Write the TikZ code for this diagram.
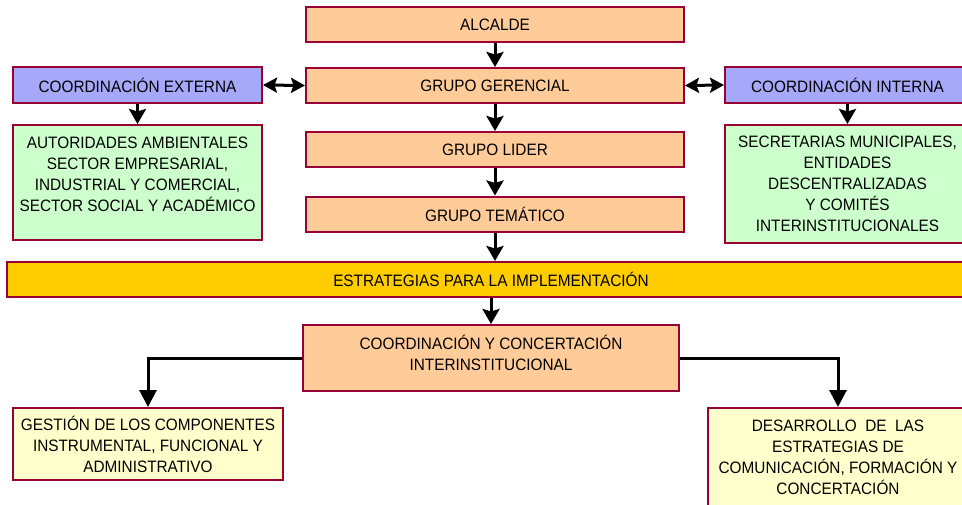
\documentclass[tikz,border=0pt]{standalone}
\usepackage{fontspec}
\setmainfont[FakeStretch=0.93]{Liberation Sans}
\usetikzlibrary{arrows.meta}
\definecolor{bord}{RGB}{153,0,51}
\definecolor{orfill}{RGB}{255,204,153}
\definecolor{blfill}{RGB}{166,168,250}
\definecolor{grfill}{RGB}{204,255,204}
\definecolor{yefill}{RGB}{255,204,0}
\definecolor{lyfill}{RGB}{255,255,204}
\tikzset{
  base/.style={draw=bord, line width=2pt, rectangle, inner sep=0pt, align=center,
    font=\fontsize{16.5}{21}\selectfont},
  obox/.style={base, fill=orfill},
  bbox/.style={base, fill=blfill},
  gbox/.style={base, fill=grfill},
  ybox/.style={base, fill=yefill},
  lbox/.style={base, fill=lyfill},
  txt/.style={inner sep=0pt, align=center, font=\fontsize{16.5}{21}\selectfont},
  arr/.style={line width=3pt, -{Stealth[length=15pt,width=17pt,inset=2.5pt]}},
  darr/.style={line width=3pt, {Stealth[length=14pt,width=15pt,inset=2.5pt]}-{Stealth[length=14pt,width=15pt,inset=2.5pt]}},
  tarr/.style={line width=3pt, -{Triangle[length=17pt,width=17pt]}},
}
\begin{document}
\begin{tikzpicture}[x=1pt,y=-1pt]
\useasboundingbox (0,0) rectangle (962,504);
% central column
\node[obox, minimum width=378, minimum height=35] (alc) at (495,24.5) {ALCALDE};
\node[obox, minimum width=378, minimum height=35] (ger) at (495,85.5) {GRUPO GERENCIAL};
\node[obox, minimum width=378, minimum height=35] (lid) at (495,149.5) {GRUPO LIDER};
\node[obox, minimum width=378, minimum height=35] (tem) at (495,214) {GRUPO TEMÁTICO};
\node[ybox, minimum width=968, minimum height=35] (est) at (491,279.5) {ESTRATEGIAS PARA LA IMPLEMENTACIÓN};
\node[obox, minimum width=376, minimum height=66] (coo) at (491,358) {};
\node[txt] (cootxt) at (491,353) {COORDINACIÓN Y CONCERTACIÓN\\INTERINSTITUCIONAL};
% left side
\node[bbox, minimum width=249, minimum height=36] (ext) at (137.5,85) {COORDINACIÓN EXTERNA};
\node[gbox, minimum width=249, minimum height=115] (aut) at (137.5,182.5) {};
\node[txt] (auttxt) at (137.5,174) {AUTORIDADES AMBIENTALES\\SECTOR EMPRESARIAL,\\INDUSTRIAL Y COMERCIAL,\\SECTOR SOCIAL Y ACADÉMICO};
% right side
\node[bbox, minimum width=245, minimum height=36] (int) at (847.5,85) {COORDINACIÓN INTERNA};
\node[gbox, minimum width=245, minimum height=118] (sec) at (847.5,184) {SECRETARIAS MUNICIPALES,\\ENTIDADES\\DESCENTRALIZADAS\\Y COMITÉS\\INTERINSTITUCIONALES};
% bottom
\node[lbox, minimum width=270, minimum height=72] (ges) at (148,444) {GESTIÓN DE LOS COMPONENTES\\INSTRUMENTAL, FUNCIONAL Y\\ADMINISTRATIVO};
\node[lbox, minimum width=260, minimum height=112] (des) at (838,464) {};
\node[txt] (destxt) at (838,457.5) {DESARROLLO\ \ DE\ \ LAS\\ESTRATEGIAS DE\\COMUNICACIÓN, FORMACIÓN Y\\CONCERTACIÓN};
% connectors
\draw[arr] (alc) -- (ger);
\draw[arr] (ger) -- (lid);
\draw[arr] (lid) -- (tem);
\draw[arr] (tem.south) -- (tem.south |- est.north);
\draw[arr] (coo.north |- est.south) -- (coo.north);
\draw[darr] (ext.east) -- (ger.west);
\draw[darr] (ger.east) -- (int.west);
\draw[arr] (ext.south) -- (aut.north);
\draw[arr] (int.south) -- (int.south |- sec.north);
\draw[tarr] (coo.west) -| (ges.north);
\draw[tarr] (coo.east) -| (des.north);
\end{tikzpicture}
\end{document}
